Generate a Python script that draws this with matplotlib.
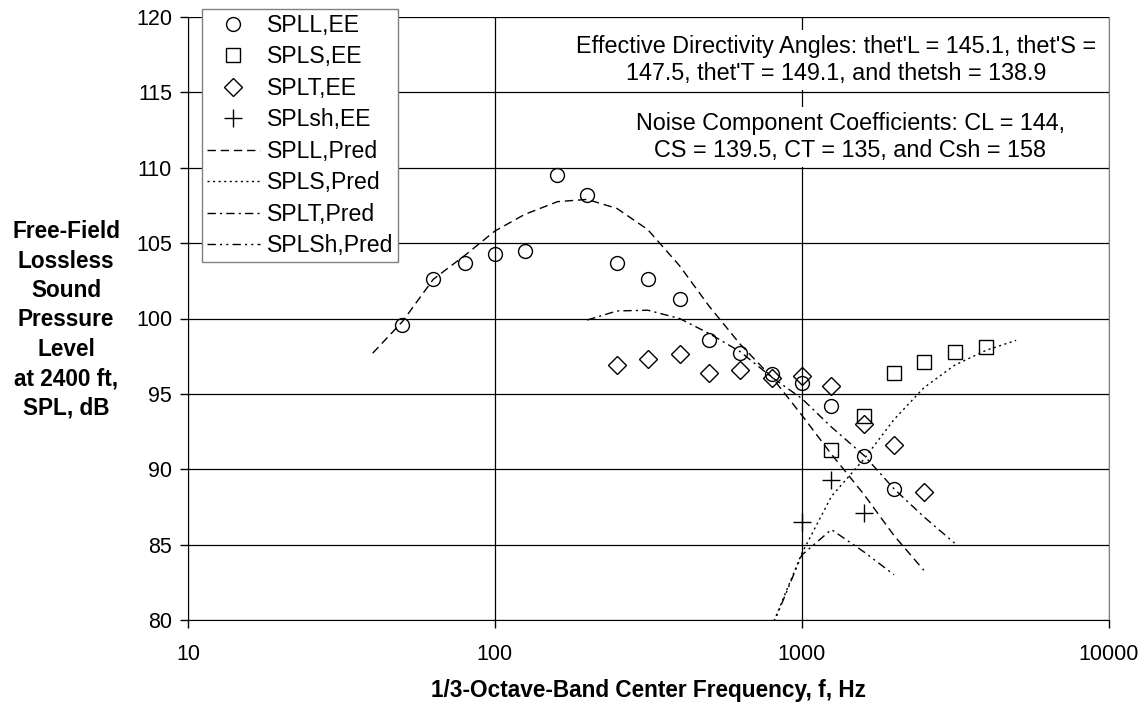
import matplotlib
matplotlib.use("Agg")
import matplotlib.pyplot as plt

plt.rcParams["font.family"] = ["Liberation Sans", "DejaVu Sans"]
plt.rcParams["font.size"] = 15

# measured data, 1/3-octave bands
freq_L = [50, 63, 80, 100, 125, 160, 200, 250, 315, 400, 500, 630, 800, 1000, 1250, 1600, 2000]
spl_L = [99.6, 102.6, 103.7, 104.3, 104.5, 109.5, 108.2, 103.7, 102.6, 101.3, 98.6, 97.7, 96.3, 95.7, 94.2, 90.9, 88.7]

freq_S = [1250, 1600, 2000, 2500, 3150, 4000]
spl_S = [91.3, 93.5, 96.4, 97.1, 97.8, 98.1]

freq_T = [250, 315, 400, 500, 630, 800, 1000, 1250, 1600, 2000, 2500]
spl_T = [96.9, 97.3, 97.65, 96.4, 96.6, 96.05, 96.2, 95.5, 93.0, 91.6, 88.5]

freq_sh = [1000, 1250, 1600]
spl_sh = [86.5, 89.3, 87.1]

# predictions
pfreq_L = [40, 50, 63, 80, 100, 125, 160, 200, 250, 315, 400, 500, 630, 800, 1000, 1250, 1600, 2000, 2500]
pred_L = [97.7, 99.8, 102.6, 104.2, 105.8, 106.9, 107.75, 107.9, 107.3, 105.9, 103.5, 100.8, 98.3, 96.1, 93.6, 91.0, 88.3, 85.6, 83.3]

pfreq_S = [800, 1000, 1250, 1600, 2000, 2500, 3150, 4000, 5000]
pred_S = [79.6, 84.4, 88.2, 90.7, 93.3, 95.4, 96.9, 97.9, 98.55]

pfreq_T = [200, 250, 315, 400, 500, 630, 800, 1000, 1250, 1600, 2000, 2500, 3150]
pred_T = [99.9, 100.5, 100.55, 100.0, 99.0, 97.8, 96.1, 94.7, 92.8, 90.9, 88.7, 86.85, 85.1]

pfreq_sh = [800, 1000, 1250, 1600, 2000]
pred_sh = [79.5, 84.3, 86.0, 84.5, 83.0]

fig = plt.figure(figsize=(11.44, 7.06), dpi=100)
ax = fig.add_axes([188 / 1144, 86 / 706, 920.5 / 1144, 603 / 706])

mk = dict(linestyle="none", markersize=10, markerfacecolor="none",
          markeredgecolor="black", markeredgewidth=1.0, clip_on=False)
ax.plot(freq_L, spl_L, marker="o", label="SPLL,EE", **mk)
ax.plot(freq_S, spl_S, marker="s", label="SPLS,EE", **mk)
ax.plot(freq_T, spl_T, marker="D", label="SPLT,EE", **dict(mk, markersize=9))
ax.plot(freq_sh, spl_sh, marker="+", label="SPLsh,EE", **dict(mk, markersize=13))

lw = 1.0
ax.plot(pfreq_L, pred_L, color="black", lw=lw, dashes=(6, 3.5), label="SPLL,Pred")
ax.plot(pfreq_S, pred_S, color="black", lw=lw, dashes=(1.5, 2.5), label="SPLS,Pred")
ax.plot(pfreq_T, pred_T, color="black", lw=lw, dashes=(6, 3, 1.5, 3), label="SPLT,Pred")
ax.plot(pfreq_sh, pred_sh, color="black", lw=lw, dashes=(6, 3, 1.5, 3, 1.5, 3), label="SPLSh,Pred")

ax.set_xscale("log")
ax.set_xlim(10, 10000)
ax.set_ylim(80, 120)
ax.set_yticks(range(80, 121, 5))
ax.set_xticks([10, 100, 1000, 10000])
ax.set_xticklabels(["10", "100", "1000", "10000"])
ax.minorticks_off()
ax.grid(True, color="black", lw=0.9)
ax.set_axisbelow(True)
ax.spines["top"].set_visible(False)
ax.spines["right"].set_color("#808080")
ax.tick_params(axis="both", labelsize=15.5)
ax.tick_params(axis="x", length=5.5, width=1, pad=12)
ax.tick_params(axis="y", length=5.5, width=1, pad=6)

ax.set_xlabel("1/3-Octave-Band Center Frequency, f, Hz", fontweight="bold",
              fontsize=16.3, labelpad=10)
fig.text(66 / 1144, 1 - 320 / 706,
         "Free-Field\nLossless\nSound\nPressure\nLevel\nat 2400 ft,\nSPL, dB",
         ha="center", va="center", fontweight="bold", fontsize=16.3, linespacing=1.36)

leg = fig.legend(loc="upper left", bbox_to_anchor=(202 / 1144, 1 - 9 / 706),
                 frameon=True, fancybox=False, edgecolor="#808080", framealpha=1,
                 fontsize=16.6, handlelength=2.3, handletextpad=0.3, labelspacing=0.37,
                 borderpad=0.2, borderaxespad=0)
leg.get_frame().set_linewidth(1.0)

box = dict(facecolor="white", edgecolor="none", pad=4)
fig.text(836 / 1144, 1 - 60 / 706,
         "Effective Directivity Angles: thet'L = 145.1, thet'S =\n147.5, thet'T = 149.1, and thetsh = 138.9",
         ha="center", va="center", multialignment="center", fontsize=16.8,
         linespacing=1.2, bbox=box)
fig.text(850 / 1144, 1 - 137 / 706,
         "Noise Component Coefficients: CL = 144,\nCS = 139.5, CT = 135, and Csh = 158",
         ha="center", va="center", multialignment="center", fontsize=16.8,
         linespacing=1.2, bbox=box)

fig.savefig("out.png", dpi=100)
